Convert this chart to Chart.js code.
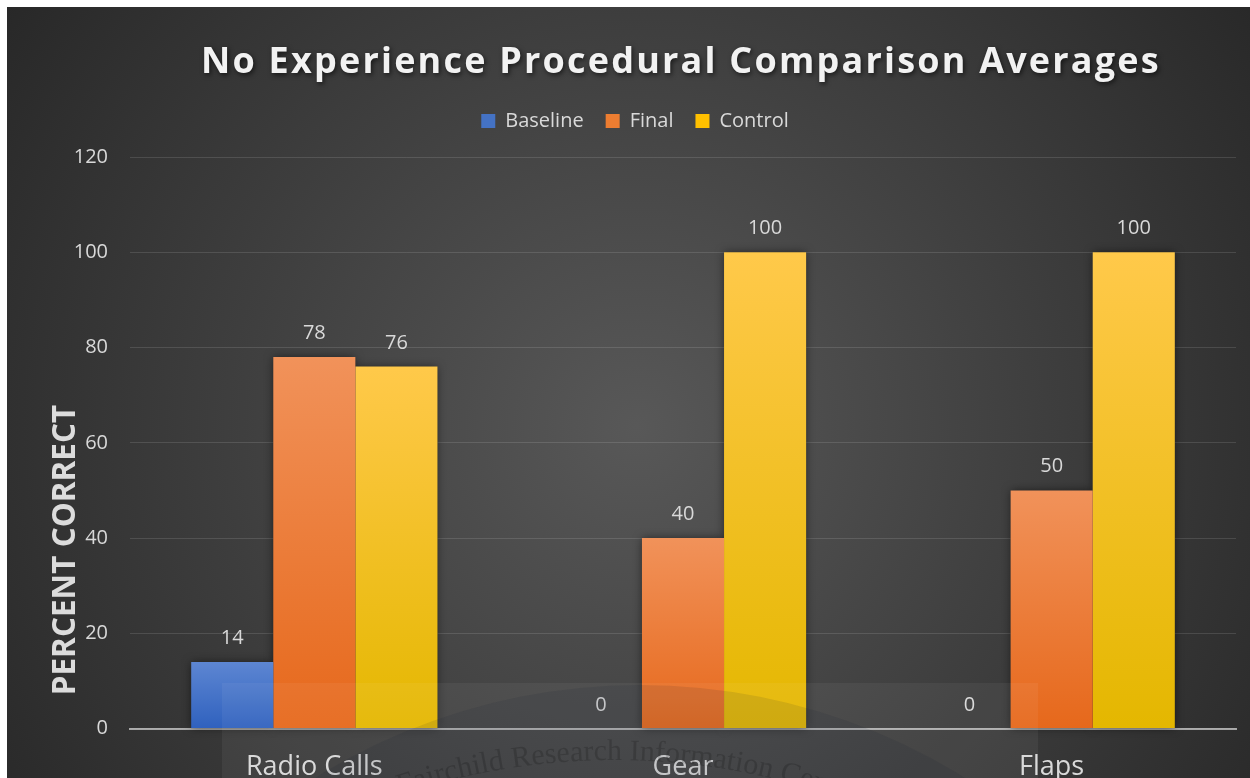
<!DOCTYPE html>
<html>
<head>
<meta charset="utf-8">
<title>No Experience Procedural Comparison Averages</title>
<script src="https://cdn.jsdelivr.net/npm/chart.js@4.4.1/dist/chart.umd.min.js"></script>
<style>
  html, body { margin: 0; padding: 0; background: #ffffff; overflow: hidden; width: 1250px; height: 778px; }
  #wrap { position: absolute; left: 7px; top: 7px; width: 1243px; height: 800px; }
  canvas { display: block; }
</style>
</head>
<body>
<div id="wrap"><canvas id="chart" width="1243" height="800"></canvas></div>
<script>
// ---- data ----
const categories = ['Radio Calls', 'Gear', 'Flaps'];
const seriesNames = ['Baseline', 'Final', 'Control'];
const baselineValues = [14, 0, 0];
const finalValues = [78, 40, 50];
const controlValues = [76, 100, 100];
const yTickValues = [0, 20, 40, 60, 80, 100, 120];
const chartTitle = 'No Experience Procedural Comparison Averages';
const yAxisTitle = 'PERCENT CORRECT';
const stampText = 'Fairchild Research Information Center';

// ---- styling ----
const FONT = '"Open Sans", "DejaVu Sans", sans-serif';
const TEXT = '#d9d9d9';
const palette = [
  { solid: '#4472c4', top: '#5d86d2', bottom: '#2f61be' },
  { solid: '#ed7d31', top: '#f1925a', bottom: '#e6681b' },
  { solid: '#ffc000', top: '#ffc94a', bottom: '#e4b700' }
];

// vertical gradient spanning each bar from its top to the zero line
function barFill(p) {
  return (c) => {
    if (c.type !== 'data') return p.solid;
    const chart = c.chart;
    const y = chart.scales && chart.scales.y;
    if (!y || !chart.chartArea) return p.solid;
    const t = y.getPixelForValue(c.raw);
    const b = y.getPixelForValue(0);
    if (!isFinite(t) || !isFinite(b) || b - t < 1) return p.solid;
    const g = chart.ctx.createLinearGradient(0, t, 0, b);
    g.addColorStop(0, p.top);
    g.addColorStop(1, p.bottom);
    return g;
  };
}

// dark radial backdrop
const backdrop = {
  id: 'backdrop',
  beforeDraw(chart) {
    const { ctx, width, height } = chart;
    ctx.save();
    const g = ctx.createRadialGradient(630, 420, 0, 630, 420, 790);
    g.addColorStop(0, '#585858');
    g.addColorStop(1, '#262626');
    ctx.fillStyle = g;
    ctx.fillRect(0, 0, width, height);
    ctx.restore();
  }
};

// soft shadow behind every bar, painted before the bars themselves
const barShadows = {
  id: 'barShadows',
  beforeDatasetsDraw(chart) {
    const ctx = chart.ctx;
    ctx.save();
    ctx.shadowColor = 'rgba(0,0,0,0.55)';
    ctx.shadowBlur = 9;
    ctx.fillStyle = '#303030';
    chart.data.datasets.forEach((ds, i) => {
      chart.getDatasetMeta(i).data.forEach((el) => {
        const { x, y, base, width } = el.getProps(['x', 'y', 'base', 'width'], true);
        if (Math.abs(base - y) < 1) return;
        ctx.fillRect(x - width / 2, y, width, base - y);
      });
    });
    ctx.restore();
  }
};

// value labels above each bar
const valueLabels = {
  id: 'valueLabels',
  afterDatasetsDraw(chart) {
    const ctx = chart.ctx;
    ctx.save();
    ctx.font = '20px ' + FONT;
    ctx.fillStyle = TEXT;
    ctx.textAlign = 'center';
    ctx.textBaseline = 'alphabetic';
    chart.data.datasets.forEach((ds, i) => {
      chart.getDatasetMeta(i).data.forEach((el, j) => {
        const { x, y } = el.getProps(['x', 'y'], true);
        ctx.fillText(String(ds.data[j]), x, y - 18);
      });
    });
    ctx.restore();
  }
};

// chart title (spaced, shadowed) and rotated axis title
const titles = {
  id: 'titles',
  afterDraw(chart) {
    const ctx = chart.ctx;
    const area = chart.chartArea;
    ctx.save();
    ctx.font = 'bold 36px ' + FONT;
    ctx.letterSpacing = '2.2px';
    ctx.fillStyle = '#f2f2f2';
    ctx.textAlign = 'center';
    ctx.textBaseline = 'alphabetic';
    ctx.shadowColor = 'rgba(0,0,0,0.6)';
    ctx.shadowBlur = 5;
    ctx.shadowOffsetX = 1.5;
    ctx.shadowOffsetY = 2;
    ctx.fillText(chartTitle, (area.left + area.right) / 2 - 2, 66);
    ctx.restore();

    ctx.save();
    ctx.font = 'bold 31.5px ' + FONT;
    ctx.fillStyle = '#dcdcdc';
    ctx.textAlign = 'center';
    ctx.textBaseline = 'alphabetic';
    ctx.translate(68, 543);
    ctx.rotate(-Math.PI / 2);
    ctx.fillText(yAxisTitle, 0, 0);
    ctx.restore();
  }
};

// translucent library stamp along the lower edge
const stamp = {
  id: 'stamp',
  afterDraw(chart) {
    const ctx = chart.ctx;
    const rx = 215, ry = 676, rw = 816, rh = 140;
    ctx.save();
    ctx.fillStyle = 'rgba(255,255,255,0.05)';
    ctx.fillRect(rx, ry, rw, rh);
    ctx.beginPath();
    ctx.rect(rx, ry, rw, rh);
    ctx.clip();
    ctx.beginPath();
    ctx.arc(633, 1293, 615, 0, Math.PI * 2);
    ctx.fillStyle = 'rgba(20,32,50,0.1)';
    ctx.fill();

    ctx.font = '30px "Liberation Serif", "DejaVu Serif", serif';
    ctx.fillStyle = 'rgba(0,0,0,0.17)';
    ctx.textAlign = 'center';
    ctx.textBaseline = 'alphabetic';
    const cx = 608, cy = 1433, r = 680;
    let phi = Math.asin((393 - cx) / r);
    for (const ch of stampText) {
      const w = ctx.measureText(ch).width;
      const a = phi + (w / 2) / r;
      ctx.save();
      ctx.translate(cx + r * Math.sin(a), cy - r * Math.cos(a));
      ctx.rotate(a);
      ctx.fillText(ch, 0, 0);
      ctx.restore();
      phi += w / r;
    }
    ctx.restore();
  }
};

Chart.defaults.font.family = FONT;
Chart.defaults.color = TEXT;

const seriesValues = [baselineValues, finalValues, controlValues];

new Chart(document.getElementById('chart'), {
  type: 'bar',
  data: {
    labels: categories,
    datasets: seriesNames.map((name, i) => ({
      label: name,
      data: seriesValues[i],
      backgroundColor: barFill(palette[i]),
      borderWidth: 0,
      categoryPercentage: 0.668,
      barPercentage: 1.0
    }))
  },
  options: {
    responsive: false,
    animation: false,
    devicePixelRatio: 1,
    layout: { padding: { top: 82, right: 14, bottom: 0, left: 27 } },
    plugins: {
      title: { display: false },
      // empty spacer between the legend and the plot area
      subtitle: {
        display: true,
        text: '',
        weight: 100,
        font: { size: 1, lineHeight: 1 },
        padding: { top: 0, bottom: 15 }
      },
      tooltip: { enabled: false },
      legend: {
        position: 'top',
        weight: 1000,
        labels: {
          boxWidth: 14,
          boxHeight: 14,
          padding: 22,
          color: TEXT,
          font: { size: 20, family: FONT },
          generateLabels: (chart) => chart.data.datasets.map((ds, i) => ({
            text: ds.label,
            fillStyle: palette[i].solid,
            strokeStyle: palette[i].solid,
            lineWidth: 0,
            fontColor: TEXT,
            hidden: false,
            datasetIndex: i
          }))
        }
      }
    },
    scales: {
      x: {
        z: 1,
        grid: { display: false, drawTicks: false },
        border: { display: true, color: 'rgba(212,212,212,0.72)', width: 2 },
        ticks: { color: TEXT, font: { size: 27 }, padding: 23 }
      },
      y: {
        min: 0,
        max: 120,
        afterBuildTicks: (s) => { s.ticks = yTickValues.map((v) => ({ value: v })); },
        afterFit: (s) => { s.width = 96; },
        grid: { color: 'rgba(255,255,255,0.12)', lineWidth: 1, drawTicks: false },
        border: { display: false },
        ticks: { color: TEXT, font: { size: 20 }, padding: 22 }
      }
    }
  },
  plugins: [backdrop, barShadows, valueLabels, titles, stamp]
});
</script>
</body>
</html>
